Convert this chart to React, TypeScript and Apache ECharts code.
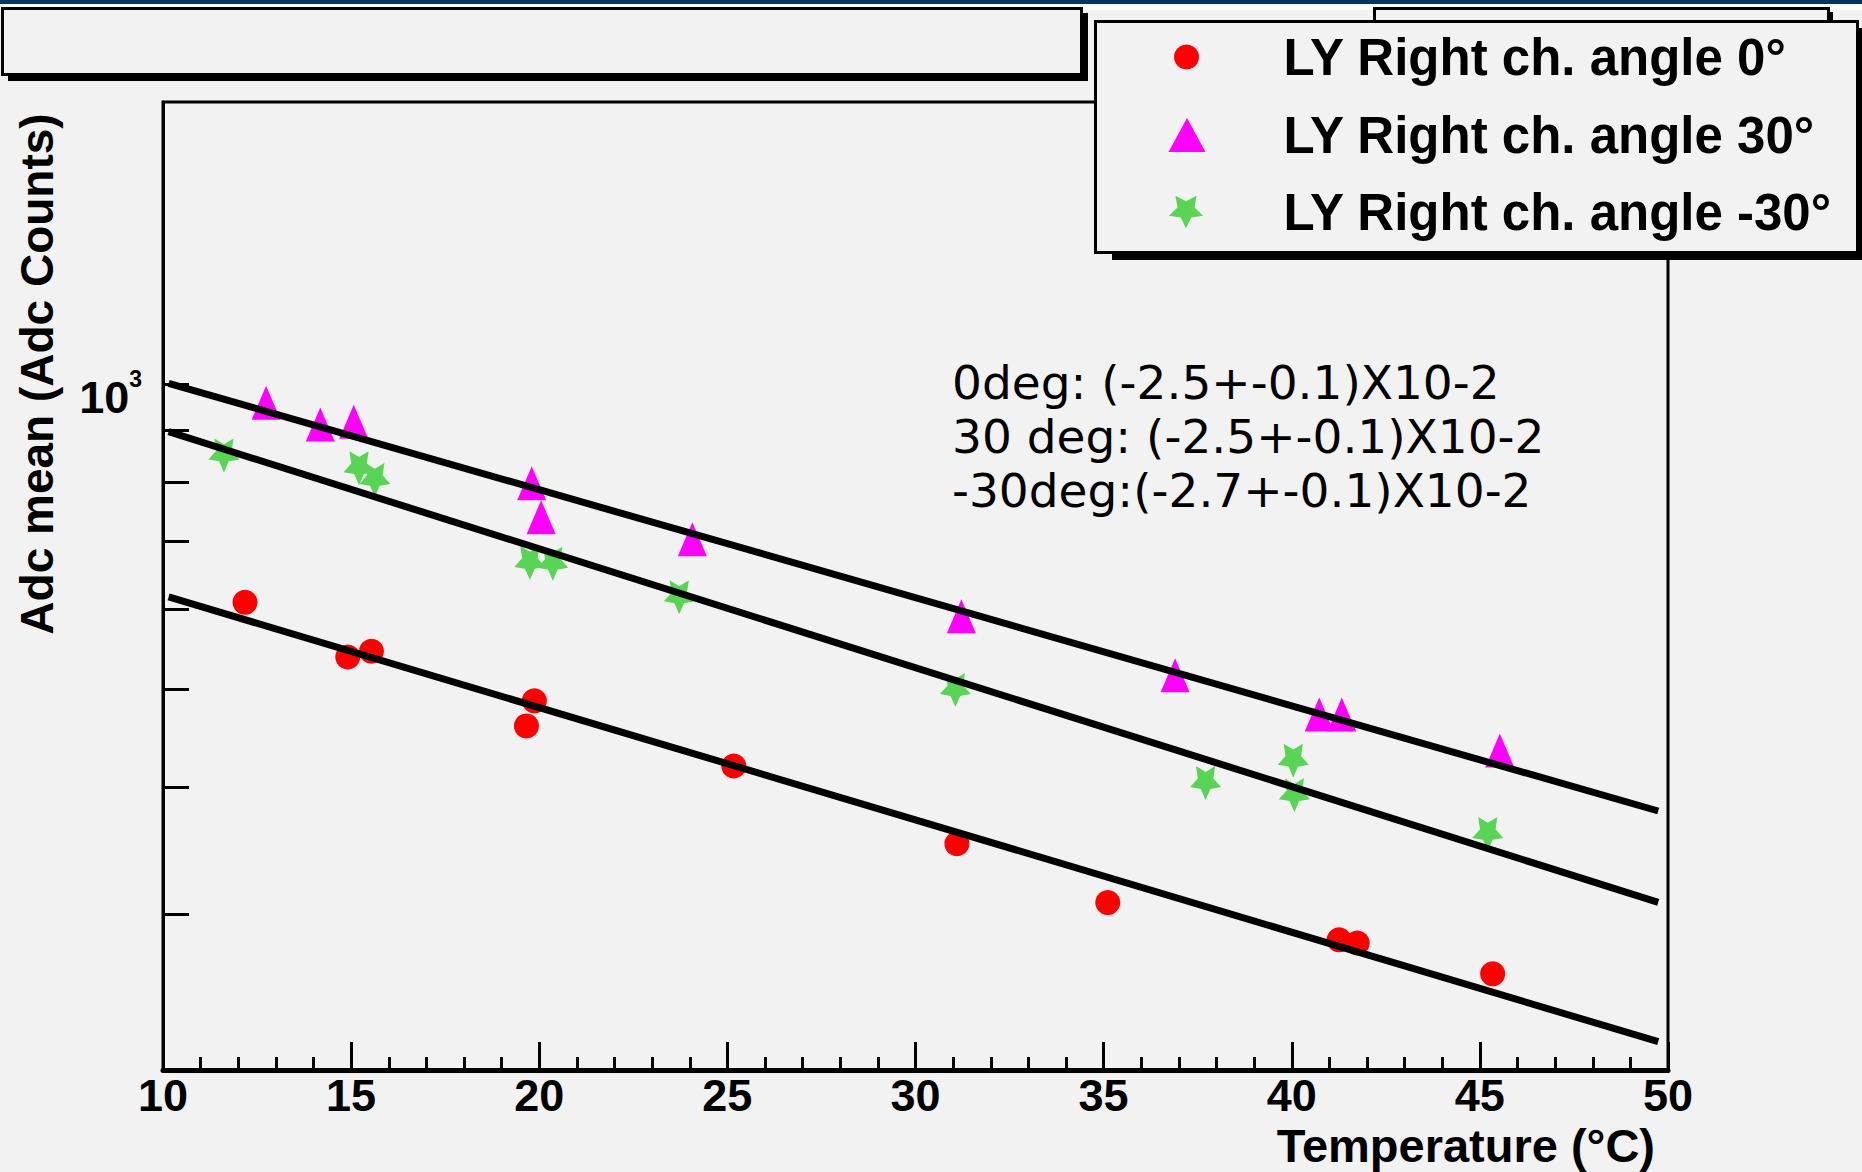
import React, { useEffect, useRef } from 'react';
import * as echarts from 'echarts';

// ---- data ----
const name0 = 'LY Right ch. angle 0°';
const name30 = 'LY Right ch. angle 30°';
const nameM30 = 'LY Right ch. angle -30°';

const temps0 = [12.18, 14.91, 15.54, 19.66, 19.87, 25.17, 31.10, 35.11, 41.26, 41.74, 45.34];
const adc0 = [609, 538, 545, 460, 487, 420, 352, 308, 283, 281, 262];

const temps30 = [12.74, 14.18, 15.07, 19.80, 20.05, 24.07, 31.22, 36.90, 40.73, 41.33, 45.53];
const adc30 = [958, 912, 918, 798, 739, 703, 590, 516, 472, 472, 435];

const tempsM30 = [11.62, 15.21, 15.63, 19.75, 20.36, 23.72, 31.06, 37.71, 40.04, 40.07, 45.21];
const adcM30 = [850, 826, 804, 666, 665, 616, 499, 404, 425, 393, 360];

// fit lines (end points)
const fitT = [10.15, 49.74];
const fit0 = [616.6, 224.6];
const fit30 = [1001.6, 379.2];
const fitM30 = [897.3, 308.1];

// axes
const xMin = 10;
const xMax = 50;
const xInterval = 5;
const yMin = 210.6;
const yMax = 1897;
const yTickValues = [300, 400, 500, 600, 700, 800, 900, 1000];
const yLabelValues = [1000];

const fitText = [
  '0deg: (-2.5+-0.1)X10-2',
  '30 deg: (-2.5+-0.1)X10-2',
  '-30deg:(-2.7+-0.1)X10-2',
];

const STAR =
  'path://M50,100 L64.69,70.23 L97.55,65.45 L73.78,42.27 L79.39,9.55 L50,25 L20.61,9.55 L26.22,42.27 L2.45,65.45 L35.31,70.23 Z';

const toPts = (xs: number[], ys: number[]) => xs.map((x, i) => [x, ys[i]]);

export default function App() {
  const ref = useRef<HTMLDivElement>(null);
  useEffect(() => {
    document.body.style.margin = '0';
    const chart = echarts.init(ref.current!, null, { renderer: 'svg' });
    const bg = '#f2f2f2';
    const font = '"Liberation Sans", Arial, Helvetica, sans-serif';
    const legendText = (padLeft: number) => ({
      color: '#000',
      fontSize: 51,
      fontWeight: 'bold',
      fontFamily: font,
      lineHeight: 50,
      padding: [0, 0, 13, padLeft],
    });
    const legendCommon: any = {
      orient: 'vertical',
      padding: 0,
      itemGap: 0,
      selectedMode: false,
      z: 20,
    };
    const option: any = {
      animation: false,
      backgroundColor: bg,
      grid: {
        left: 163,
        top: 102,
        width: 1505,
        height: 968,
        show: true,
        borderColor: '#000',
        borderWidth: 3,
        backgroundColor: 'transparent',
      },
      xAxis: {
        type: 'value',
        min: xMin,
        max: xMax,
        interval: xInterval,
        axisLine: { show: true, onZero: false, lineStyle: { color: '#000', width: 5 } },
        axisTick: { show: true, inside: true, length: 28, lineStyle: { color: '#000', width: 3 } },
        minorTick: { show: true, splitNumber: 5, length: 13, lineStyle: { color: '#000', width: 3 } },
        axisLabel: {
          color: '#000',
          fontSize: 45,
          fontWeight: 'bold',
          fontFamily: font,
          lineHeight: 38,
          margin: 6,
          showMinLabel: true,
          showMaxLabel: true,
        },
        splitLine: { show: false },
        minorSplitLine: { show: false },
      },
      yAxis: {
        type: 'log',
        logBase: 10,
        min: yMin,
        max: yMax,
        axisLine: { show: true, lineStyle: { color: '#000', width: 3 } },
        axisTick: {
          show: true,
          inside: true,
          length: 26,
          customValues: yTickValues,
          lineStyle: { color: '#000', width: 3 },
        },
        axisLabel: {
          customValues: yLabelValues,
          margin: 21,
          padding: [27, 0, 0, 0],
          formatter: (v: number) => (Math.abs(v - 1000) < 1 ? '{b|10}{s|3}' : ''),
          rich: {
            b: { fontSize: 45, fontWeight: 'bold', fontFamily: font, color: '#000', lineHeight: 60 },
            s: {
              fontSize: 23,
              fontWeight: 'bold',
              fontFamily: font,
              color: '#000',
              lineHeight: 23,
              verticalAlign: 'top',
            },
          },
        },
        splitLine: { show: false },
        minorTick: { show: false },
      },
      legend: [
        {
          ...legendCommon,
          data: [name0],
          left: 1174,
          top: 25.5,
          itemWidth: 25,
          itemHeight: 25,
          textStyle: legendText(79.6),
        },
        {
          ...legendCommon,
          data: [name30],
          left: 1168.5,
          top: 103.5,
          itemWidth: 37,
          itemHeight: 34,
          symbolKeepAspect: false,
          textStyle: legendText(73.1),
        },
        {
          ...legendCommon,
          data: [nameM30],
          left: 1169,
          top: 180.5,
          itemWidth: 34,
          itemHeight: 34,
          textStyle: legendText(75.6),
        },
      ],
      graphic: [
        { type: 'rect', z: 1, shape: { x: 0, y: 0, width: 1862, height: 4 }, style: { fill: '#003366' } },
        { type: 'rect', z: 1, shape: { x: 0, y: 4, width: 1862, height: 6 }, style: { fill: '#ffffff' } },
        // empty title pave
        { type: 'rect', z: 5, shape: { x: 8, y: 13, width: 1080, height: 68 }, style: { fill: '#000' } },
        {
          type: 'rect',
          z: 6,
          shape: { x: 2.5, y: 8.5, width: 1079, height: 66 },
          style: { fill: bg, stroke: '#000', lineWidth: 3 },
        },
        // partially hidden box at top right
        { type: 'rect', z: 5, shape: { x: 1378, y: 12, width: 455, height: 40 }, style: { fill: '#000' } },
        {
          type: 'rect',
          z: 6,
          shape: { x: 1374.5, y: 8.5, width: 454, height: 40 },
          style: { fill: bg, stroke: '#000', lineWidth: 3 },
        },
        // legend box
        { type: 'rect', z: 10, shape: { x: 1112, y: 28, width: 760, height: 232 }, style: { fill: '#000' } },
        {
          type: 'rect',
          z: 11,
          shape: { x: 1095.5, y: 21.5, width: 762, height: 231 },
          style: { fill: bg, stroke: '#000', lineWidth: 3 },
        },
        // fit results
        {
          type: 'text',
          z: 12,
          x: 952,
          y: 355,
          style: {
            text: fitText.join('\n'),
            font: '47px "DejaVu Sans", sans-serif',
            lineHeight: 54,
            fill: '#000',
            align: 'left',
            verticalAlign: 'top',
          },
        },
        // axis titles
        {
          type: 'text',
          z: 12,
          x: 37,
          y: 374,
          rotation: Math.PI / 2,
          style: {
            text: 'Adc mean (Adc Counts)',
            font: 'bold 46px "Liberation Sans", Arial, sans-serif',
            fill: '#000',
            align: 'center',
            verticalAlign: 'middle',
          },
        },
        {
          type: 'text',
          z: 12,
          x: 1655,
          y: 1145,
          style: {
            text: 'Temperature (°C)',
            font: 'bold 47px "Liberation Sans", Arial, sans-serif',
            lineHeight: 40,
            fill: '#000',
            align: 'right',
            verticalAlign: 'middle',
          },
        },
      ],
      series: [
        {
          name: name0,
          type: 'scatter',
          data: toPts(temps0, adc0),
          symbol: 'circle',
          symbolSize: 25,
          itemStyle: { color: '#ff0000', opacity: 1 },
          z: 2,
        },
        {
          name: name30,
          type: 'scatter',
          data: toPts(temps30, adc30),
          symbol: 'triangle',
          symbolSize: [29, 34],
          itemStyle: { color: '#ff00ff', opacity: 1 },
          z: 2,
        },
        {
          name: nameM30,
          type: 'scatter',
          data: toPts(tempsM30, adcM30),
          symbol: STAR,
          symbolSize: [31, 34],
          itemStyle: { color: '#59d454', opacity: 1 },
          z: 2,
        },
        {
          name: 'fit0',
          type: 'line',
          data: toPts(fitT, fit0),
          symbol: 'none',
          lineStyle: { color: '#000', width: 7 },
          silent: true,
          z: 3,
        },
        {
          name: 'fit30',
          type: 'line',
          data: toPts(fitT, fit30),
          symbol: 'none',
          lineStyle: { color: '#000', width: 7 },
          silent: true,
          z: 3,
        },
        {
          name: 'fitM30',
          type: 'line',
          data: toPts(fitT, fitM30),
          symbol: 'none',
          lineStyle: { color: '#000', width: 7 },
          silent: true,
          z: 3,
        },
      ],
    };
    chart.setOption(option);
    return () => chart.dispose();
  }, []);
  return (
    <div
      ref={ref}
      style={{ position: 'fixed', left: 0, top: 0, width: 1862, height: 1172 }}
    />
  );
}
